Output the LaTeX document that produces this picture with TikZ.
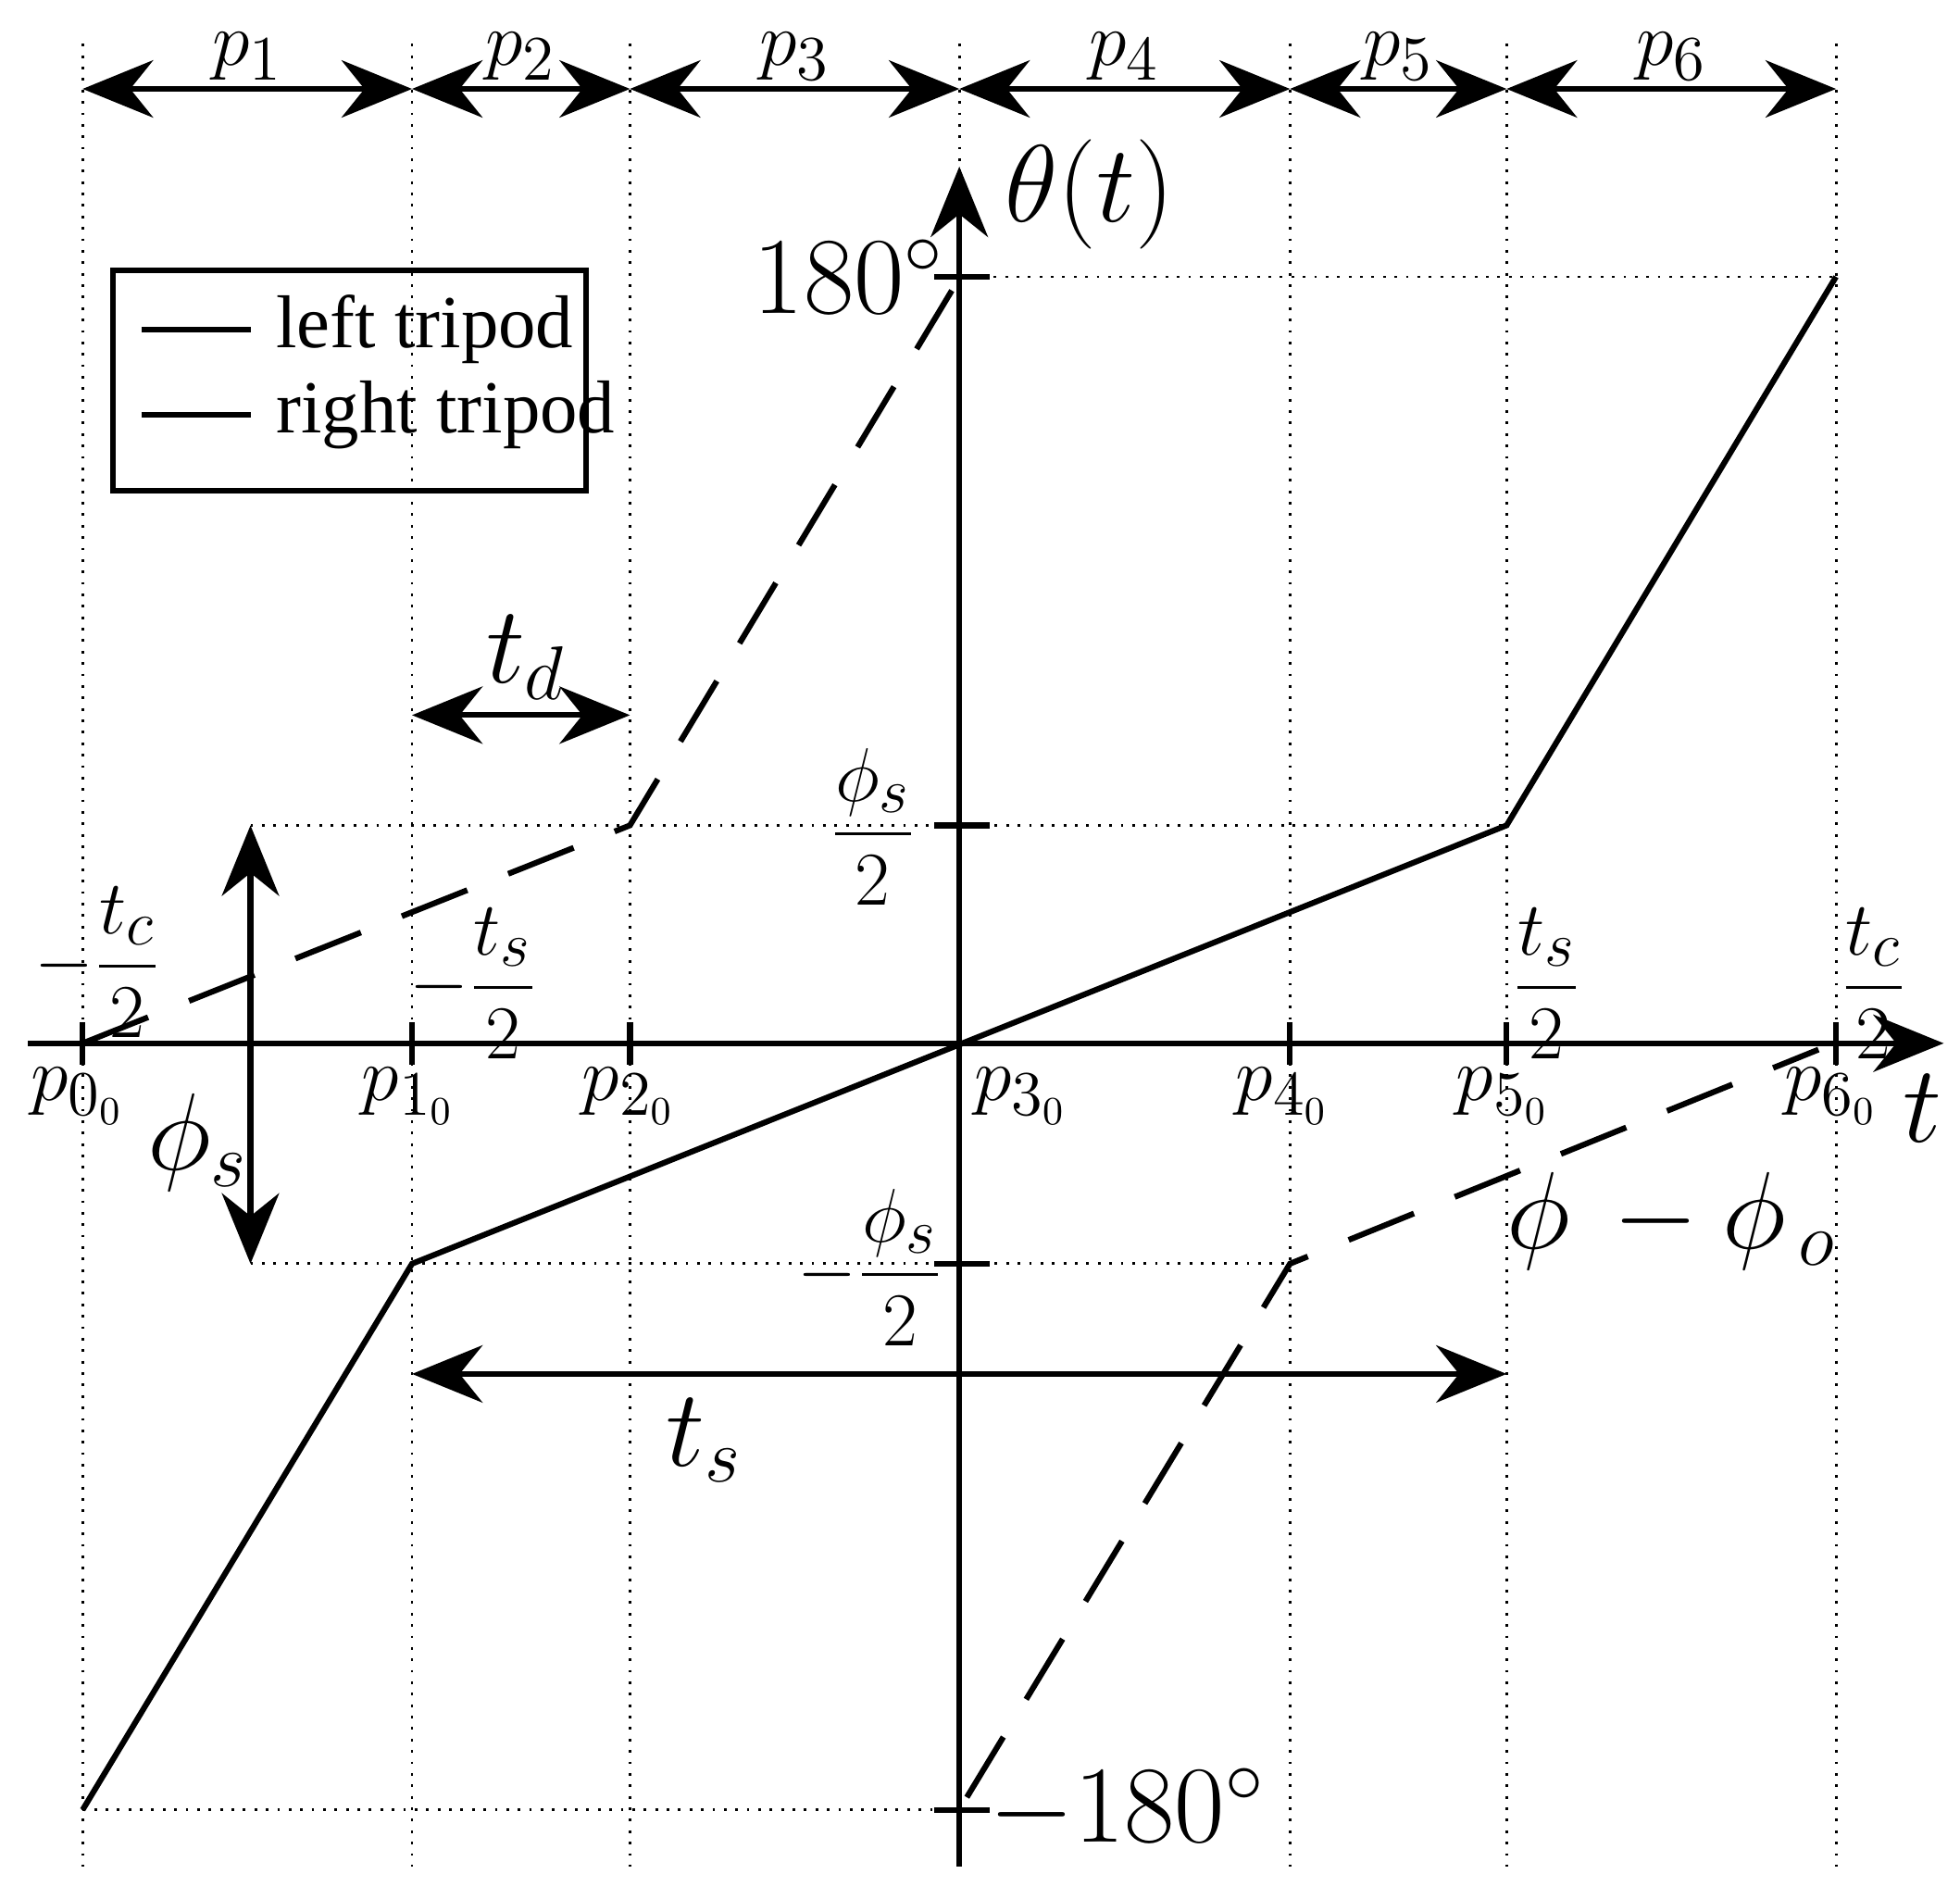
\documentclass[tikz,border=0pt]{standalone}
\usepackage{amsmath}
\usepackage{fontspec}
\usetikzlibrary{arrows.meta}
\newfontfamily\legf{Liberation Serif}
\begin{document}
\begin{tikzpicture}[x=0.01cm,y=-0.01cm,
  ax/.style={line width=1.3pt},
  dar/.style={line width=1.3pt,{Stealth[length=16pt,width=13pt]}-{Stealth[length=16pt,width=13pt]}},
  guide/.style={dotted,line width=0.6pt},
  solidc/.style={line width=1.3pt},
  dashc/.style={line width=1.3pt,dash pattern=on 16pt off 10pt},
  lbl/.style={font=\fontsize{19}{22}\selectfont},
  big/.style={font=\fontsize{27}{30}\selectfont}]
\useasboundingbox (0,0) rectangle (1565,1516);
% guides
\foreach \x/\n in {66/0,329/1,503/2,766/3,1030/4,1203/5,1466/6}{
  \coordinate (g\n) at (\x,35); \coordinate (gb\n) at (\x,1490);
  \draw[guide] (g\n) -- (gb\n);}
\draw[guide] (766,221) -- (1466,221);
\draw[guide] (200,659) -- (1203,659);
\draw[guide] (200,1009) -- (1030,1009);
\draw[guide] (66,1445) -- (766,1445);
% top arrows
\foreach \xa/\xb/\i in {66/329/1,329/503/2,503/766/3,766/1030/4,1030/1203/5,1203/1466/6}{
  \coordinate (l\i) at (\xa,71); \coordinate (r\i) at (\xb,71);
  \draw[dar] (l\i) -- (r\i) node[midway,above=-2pt,lbl] {$p_{\i}$};}
% axes
\coordinate (tL) at (22,833); \coordinate (tR) at (1552,833);
\coordinate (yB) at (766,1490); \coordinate (yT) at (766,133);
\draw[ax,-{Stealth[length=16pt,width=13pt]}] (tL) -- (tR);
\draw[ax,-{Stealth[length=16pt,width=13pt]}] (yB) -- (yT);
\node[big,anchor=west] (thl) at (790,155) {$\theta(t)$};
\node[big] (tl) at (1535,885) {$t$};
\foreach \x/\n/\lx in {66/0/62,329/1/326,503/2/502,766/3/815,1030/4/1024,1203/5/1200,1466/6/1462}{
  \draw[ax] (\x,816) -- (\x,850);
  \node[lbl] (pl\n) at (\lx,875) {$p_{\n_0}$};}
\foreach \y in {221,659,1009,1445}{\draw[ax] (746,\y) -- (790,\y);}
\node[big] (a180) at (678,221) {$180^\circ$};
\node[big] (m180) at (900,1445) {$-180^\circ$};
\node[lbl] (ps2) at (697,660) {$\dfrac{\phi_s}{2}$};
\node[lbl] (mps2) at (695,1012) {$-\dfrac{\phi_s}{2}$};
\node[lbl] (tc1) at (78,768) {$-\dfrac{t_c}{2}$};
\node[lbl] (ts1) at (378,785) {$-\dfrac{t_s}{2}$};
\node[lbl] (ts2) at (1235,785) {$\dfrac{t_s}{2}$};
\node[lbl] (tc2) at (1496,785) {$\dfrac{t_c}{2}$};
\node[big] (phio) at (1335,975) {$\phi\,-\phi_{\,o}$};
% curves
\draw[solidc] (66,1445) -- (329,1009) -- (1203,659) -- (1466,221);
\draw[dashc] (66,833) -- (503,659) -- (760,232);
\draw[dashc] (772,1435) -- (1030,1009) -- (1452,838);
% dimension arrows
\draw[dar] (329,571) -- (503,571);
\node[big] (td) at (420,525) {$t_d$};
\draw[dar] (200,659) -- (200,1009);
\node[big] (phs) at (158,912) {$\phi_s$};
\draw[dar] (329,1097) -- (1203,1097);
\node[big] (tsl) at (562,1150) {$t_s$};
% legend
\draw[line width=1.3pt] (90,216) rectangle (468,392);
\draw[solidc] (113,263) -- (200,263);
\draw[dashc,dash pattern=on 30pt off 10pt] (113,331) -- (200,331);
\node[anchor=west,font=\legf\fontsize{17}{20}\selectfont] (lg1) at (208,263) {left tripod};
\node[anchor=west,font=\legf\fontsize{17}{20}\selectfont] (lg2) at (208,331) {right tripod};
\end{tikzpicture}
\end{document}
